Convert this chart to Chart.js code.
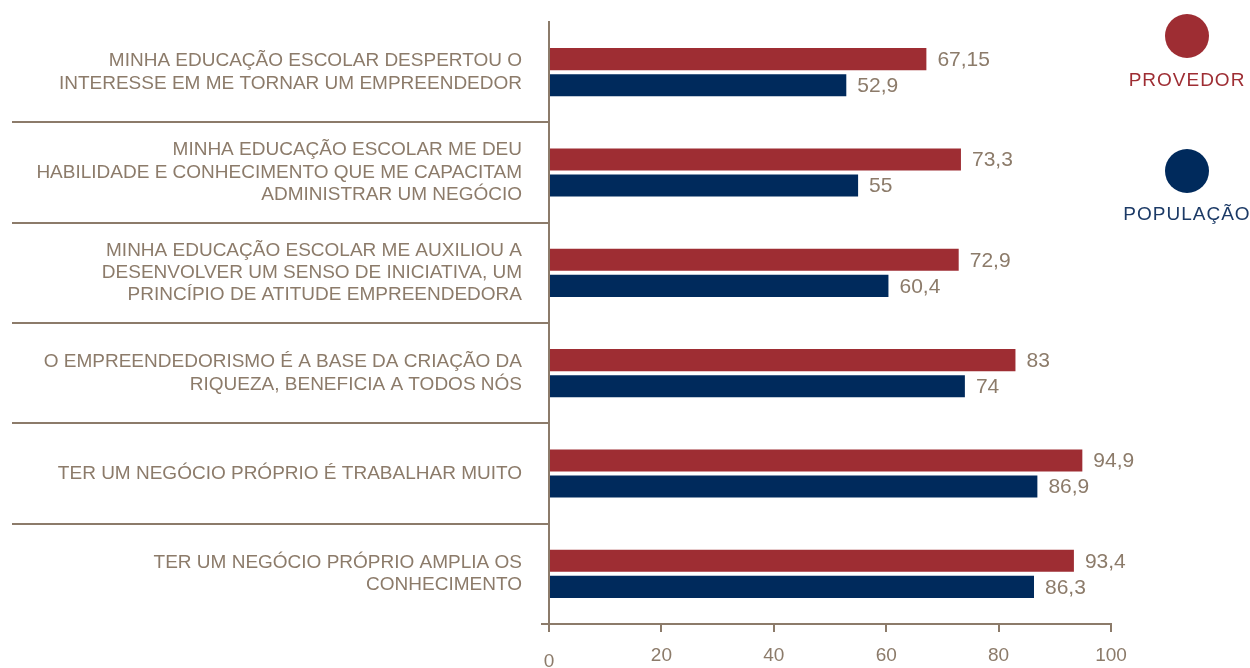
<!DOCTYPE html>
<html lang="pt">
<head>
<meta charset="utf-8">
<title>Educação e empreendedorismo</title>
<script src="https://cdn.jsdelivr.net/npm/chart.js@4.4.1/dist/chart.umd.min.js"></script>
<style>
  html, body { margin: 0; padding: 0; background: #fff; }
  #wrap { width: 1250px; height: 668px; }
</style>
</head>
<body>
<div id="wrap"><canvas id="chart" width="1250" height="668"></canvas></div>
<script>
// data
const categories = [
  ['MINHA EDUCAÇÃO ESCOLAR DESPERTOU O', 'INTERESSE EM ME TORNAR UM EMPREENDEDOR'],
  ['MINHA EDUCAÇÃO ESCOLAR ME DEU', 'HABILIDADE E CONHECIMENTO QUE ME CAPACITAM', 'ADMINISTRAR UM NEGÓCIO'],
  ['MINHA EDUCAÇÃO ESCOLAR ME AUXILIOU A', 'DESENVOLVER UM SENSO DE INICIATIVA, UM', 'PRINCÍPIO DE ATITUDE EMPREENDEDORA'],
  ['O EMPREENDEDORISMO É A BASE DA CRIAÇÃO DA', 'RIQUEZA, BENEFICIA A TODOS NÓS'],
  ['TER UM NEGÓCIO PRÓPRIO É TRABALHAR MUITO'],
  ['TER UM NEGÓCIO PRÓPRIO AMPLIA OS', 'CONHECIMENTO']
];
const provedor = [67.15, 73.3, 72.9, 83, 94.9, 93.4];
const populacao = [52.9, 55, 60.4, 74, 86.9, 86.3];
const xTicks = [0, 20, 40, 60, 80, 100];
const seriesNames = ['PROVEDOR', 'POPULAÇÃO'];

const RED = '#9e2d33';
const BLUE = '#002a5c';
const BLUE_TEXT = '#1c3a66';
const TAUPE = '#8c7b6a';
const SANS = "'Liberation Sans', Arial, sans-serif";

const fmt = v => String(v).replace('.', ',');

// horizontal rules between the categories, drawn across the label column
const separators = {
  id: 'separators',
  afterDraw(chart) {
    const y = chart.scales.y;
    const ctx = chart.ctx;
    ctx.save();
    ctx.strokeStyle = TAUPE;
    ctx.lineWidth = 2;
    ctx.beginPath();
    for (let i = 1; i < categories.length; i++) {
      const py = Math.round((y.getPixelForTick(i - 1) + y.getPixelForTick(i)) / 2);
      ctx.moveTo(12, py);
      ctx.lineTo(y.right, py);
    }
    // little stub of the x axis to the left of the origin
    ctx.moveTo(y.right - 8, chart.chartArea.bottom);
    ctx.lineTo(y.right, chart.chartArea.bottom);
    ctx.stroke();
    ctx.restore();
  }
};

// value labels at the end of each bar
const valueLabels = {
  id: 'valueLabels',
  afterDatasetsDraw(chart) {
    const ctx = chart.ctx;
    ctx.save();
    ctx.font = '21px ' + SANS;
    ctx.fillStyle = TAUPE;
    ctx.textAlign = 'left';
    ctx.textBaseline = 'middle';
    chart.data.datasets.forEach((ds, di) => {
      chart.getDatasetMeta(di).data.forEach((bar, i) => {
        ctx.fillText(fmt(ds.data[i]), bar.x + 11, bar.y + 1);
      });
    });
    ctx.restore();
  }
};

// legend at the top right: dot above the series name
const dotLegend = {
  id: 'dotLegend',
  afterDraw(chart) {
    const ctx = chart.ctx;
    const items = [
      { name: seriesNames[0], dot: RED, text: RED, cy: 36, ty: 81 },
      { name: seriesNames[1], dot: BLUE, text: BLUE_TEXT, cy: 171, ty: 215 }
    ];
    ctx.save();
    ctx.font = '19px ' + SANS;
    ctx.textAlign = 'center';
    ctx.textBaseline = 'middle';
    if ('letterSpacing' in ctx) ctx.letterSpacing = '1px';
    items.forEach(it => {
      ctx.fillStyle = it.dot;
      ctx.beginPath();
      ctx.arc(1187, it.cy, 22, 0, Math.PI * 2);
      ctx.fill();
      ctx.fillStyle = it.text;
      ctx.fillText(it.name, 1187, it.ty);
    });
    ctx.restore();
  }
};

new Chart(document.getElementById('chart'), {
  type: 'bar',
  data: {
    labels: categories,
    datasets: [
      { label: seriesNames[0], data: provedor, backgroundColor: RED },
      { label: seriesNames[1], data: populacao, backgroundColor: BLUE }
    ]
  },
  options: {
    indexAxis: 'y',
    responsive: false,
    animation: false,
    categoryPercentage: 0.52,
    barPercentage: 0.846,
    layout: { padding: { top: 22, right: 139, left: 0, bottom: 0 } },
    plugins: {
      legend: { display: false },
      tooltip: { enabled: false }
    },
    scales: {
      y: {
        grid: { display: false, drawTicks: false },
        border: { display: true, color: TAUPE, width: 2 },
        ticks: {
          color: TAUPE,
          padding: 27,
          font: { family: SANS, size: 19, lineHeight: 1.18 }
        },
        afterFit(s) {
          s.width = 549;
          s.paddingTop = 0;
          s.paddingBottom = 0;
        }
      },
      x: {
        min: 0,
        max: 100,
        afterBuildTicks(s) { s.ticks = xTicks.map(v => ({ value: v })); },
        grid: { drawOnChartArea: false, drawTicks: true, tickLength: 8, color: TAUPE, lineWidth: 2 },
        border: { display: true, color: TAUPE, width: 2 },
        ticks: {
          color: TAUPE,
          padding: 12,
          maxRotation: 0,
          // the "0" sits a little lower than the other tick labels
          font: c => ({ family: SANS, size: 19, lineHeight: c.index === 0 ? 1.85 : 1.2 })
        },
        afterFit(s) { s.height = 44; }
      }
    }
  },
  plugins: [separators, valueLabels, dotLegend]
});
</script>
</body>
</html>
